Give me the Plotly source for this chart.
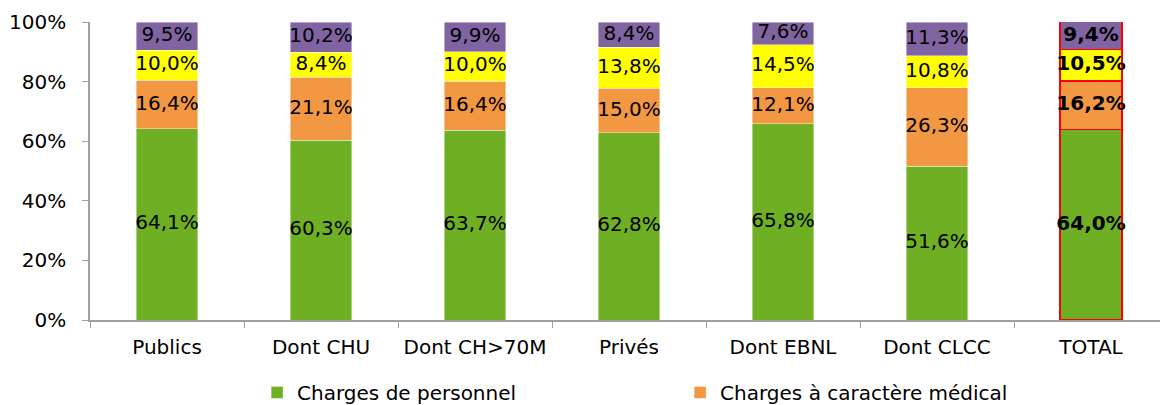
import plotly.graph_objects as go

categories = ["Publics", "Dont CHU", "Dont CH>70M", "Privés", "Dont EBNL", "Dont CLCC", "TOTAL"]
personnel = [64.1, 60.3, 63.7, 62.8, 65.8, 51.6, 64.0]
medical = [16.4, 21.1, 16.4, 15.0, 12.1, 26.3, 16.2]
hotelier = [10.0, 8.4, 10.0, 13.8, 14.5, 10.8, 10.5]
amort = [9.5, 10.2, 9.9, 8.4, 7.6, 11.3, 9.4]

series = [
    ("Charges de personnel", personnel, "#6FAF23", True),
    ("Charges à caractère médical", medical, "#F29742", True),
    ("Charges à caractère hôtelier et général", hotelier, "#FFFF00", False),
    ("Charges d'amortissement, de provisions, financières et exceptionnelles", amort, "#8064A2", False),
]

FONT = "DejaVu Sans, Liberation Sans, Arial, sans-serif"
FS = 20

def fmt(v, bold):
    s = f"{v:.1f}".replace(".", ",") + "%"
    return f"<b>{s}</b>" if bold else s

fig = go.Figure()
base = [0.0] * len(categories)
label_x, label_y, label_t = [], [], []
for name, vals, color, show in series:
    line_colors = ["#FF0000" if c == "TOTAL" else "rgba(255,255,255,0.6)" for c in categories]
    line_widths = [1.5 if c == "TOTAL" else 0.7 for c in categories]
    fig.add_trace(go.Bar(
        x=categories, y=vals, name=name, marker=dict(color=color, line=dict(color=line_colors, width=line_widths)),
        width=0.40, showlegend=show, hoverinfo="skip",
    ))
    for i, (c, v) in enumerate(zip(categories, vals)):
        label_x.append(c)
        label_y.append(base[i] + v / 2)
        label_t.append(fmt(v, c == "TOTAL"))
        base[i] += v

fig.add_trace(go.Scatter(
    x=label_x, y=label_y, text=label_t, mode="text", showlegend=False,
    textfont=dict(family=FONT, size=FS, color="#000000"), hoverinfo="skip", cliponaxis=False,
))

fig.update_layout(
    barmode="stack",
    width=1160, height=397,
    margin=dict(l=82, r=0, t=14, b=85, autoexpand=False),
    paper_bgcolor="white", plot_bgcolor="white",
    font=dict(family=FONT, size=FS, color="#000000"),
    legend=dict(
        orientation="h", x=0.155, xanchor="left", y=-0.243, yanchor="middle",
        entrywidth=378, entrywidthmode="pixels", traceorder="normal",
        font=dict(family=FONT, size=20), itemwidth=30, tracegroupgap=0,
    ),
    xaxis=dict(
        showline=True, linecolor="#A0A0A0", linewidth=1.5, ticks="outside", tickson="boundaries",
        ticklen=6, tickcolor="#A0A0A0", showgrid=False, range=[-0.5, 6.5],
        tickfont=dict(family=FONT, size=FS), ticklabelstandoff=8, automargin=False,
    ),
    yaxis=dict(
        range=[0, 100], dtick=20, ticksuffix="%", showline=True, linecolor="#A0A0A0", linewidth=1.5,
        ticks="outside", ticklen=6, tickcolor="#A0A0A0", showgrid=False, zeroline=False,
        tickfont=dict(family=FONT, size=FS), ticklabelstandoff=12, automargin=False,
    ),
)

fig.write_html("out.html")
